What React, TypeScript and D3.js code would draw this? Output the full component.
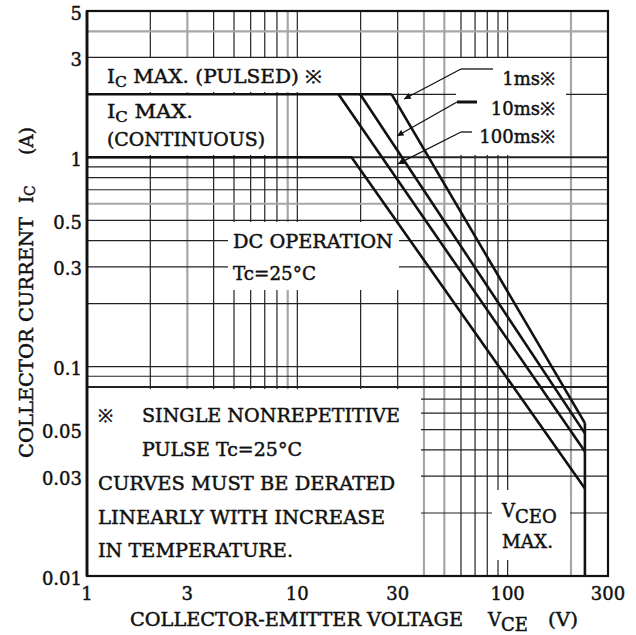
import React from "react";
import * as d3 from "d3";

const W = 636;
const H = 635;

// axis ticks
const xTickValues = [1, 3, 10, 30, 100, 300];
const yTickValues = [0.01, 0.03, 0.05, 0.1, 0.3, 0.5, 1, 3, 5];

// grid lines
const xGridValues = [2, 3, 4, 5, 6, 7, 8, 9, 10, 20, 30, 40, 50, 60, 70, 80, 90, 100, 200];
const yGridValues = [0.02, 0.03, 0.04, 0.05, 0.06, 0.07, 0.08, 0.09, 0.1, 0.2, 0.3, 0.4, 0.5, 0.6, 0.7, 0.8, 0.9, 1, 2, 3, 4];
const xGridGray = [3, 9, 40, 50, 200];
const yGridGray = [0.6, 4];

// SOA curves: [VCE (V), IC (A)]
const icMaxPulsed: [number, number][] = [[1, 2], [28.1, 2]];
const curve1ms: [number, number][] = [[28.1, 2], [233, 0.0537]];
const curve10ms: [number, number][] = [[19.9, 2], [233, 0.048]];
const curve100ms: [number, number][] = [[15.7, 2], [233, 0.0393]];
const curveDC: [number, number][] = [[1, 1], [18.1, 1], [233, 0.0262]];
const vceoMax: [number, number][] = [[233, 0.0537], [233, 0.01]];

// arrow tips (data coords) for pulse-width labels
const pulseLabels = ["1ms※", "10ms※", "100ms※"];
const pulseArrowTips: [number, number][] = [[32.2, 1.9], [29.8, 1.265], [30.1, 0.93]];

const FONT = "DejaVu Serif";

export default function App() {
  const L = 87, R = 608, T = 11, B = 576;
  const x = d3.scaleLog().domain([1, 300]).range([L, R]);
  const y = d3.scaleLog().domain([0.01, 5]).range([B, T]);
  const line = d3.line<[number, number]>().x((d) => x(d[0])).y((d) => y(d[1]));

  // white label backgrounds that interrupt the grid
  const masks = [
    { x: 88, y: 58, w: 257, h: 34 },     // IC MAX (PULSED)
    { x: 88, y: 95, w: 184, h: 60 },     // IC MAX (CONTINUOUS)
    { x: 456, y: 58, w: 110, h: 97 },    // pulse width labels
    { x: 228, y: 222, w: 171, h: 68 },   // DC OPERATION
    { x: 88, y: 389, w: 333, h: 186 },   // notes
    { x: 492, y: 490, w: 78, h: 70 },    // VCEO MAX
  ];

  const leaders = [
    { elbow: [[493, 69], [461, 69]], text: { x: 555, y: 85 }, thick: false },
    { elbow: [[477, 102], [457, 102]], text: { x: 555, y: 115 }, thick: true },
    { elbow: [[472, 132], [461, 132]], text: { x: 555, y: 143 }, thick: false },
  ];

  const ts = {
    fontFamily: FONT,
    fontSize: 18,
    fill: "#111",
    stroke: "#111",
    strokeWidth: 0.45,
  } as React.CSSProperties;

  return (
    <div style={{ position: "absolute", left: 0, top: 0 }}>
      <svg width={W} height={H} viewBox={`0 0 ${W} ${H}`} style={{ display: "block", background: "#fff" }}>
        <defs>
          <marker id="ah" viewBox="0 0 10 10" refX="10" refY="5" markerWidth="7" markerHeight="5" orient="auto">
            <path d="M0,0L10,5L0,10z" fill="#111" />
          </marker>
        </defs>
        <rect x={0} y={0} width={W} height={H} fill="#fff" />

        {/* grid */}
        {xGridValues.map((v) => {
          const gray = xGridGray.includes(v);
          return (
            <line key={"gx" + v} x1={x(v)} x2={x(v)} y1={T} y2={B}
              stroke={gray ? "#a6a6a6" : "#222"} strokeWidth={gray ? 2.2 : 1.2} />
          );
        })}
        {yGridValues.map((v) => {
          const gray = yGridGray.includes(v);
          const major = v === 1 || v === 0.08;
          return (
            <line key={"gy" + v} x1={L} x2={R} y1={y(v)} y2={y(v)}
              stroke={gray ? "#a6a6a6" : "#222"} strokeWidth={gray ? 2.2 : major ? 2 : 1.2} />
          );
        })}

        {/* label backgrounds */}
        {masks.map((m, i) => (
          <rect key={"m" + i} x={m.x} y={m.y} width={m.w} height={m.h} fill="#fff" />
        ))}

        {/* frame */}
        <rect x={L} y={T} width={R - L} height={B - T} fill="none" stroke="#111" strokeWidth={2.2} />
        <line x1={L} x2={L} y1={T} y2={B} stroke="#111" strokeWidth={2.8} />

        {/* curves */}
        {[icMaxPulsed, curve1ms, curve10ms, curve100ms, curveDC, vceoMax].map((c, i) => (
          <path key={"c" + i} d={line(c) || ""} fill="none" stroke="#111" strokeWidth={2.6} strokeLinejoin="round" />
        ))}

        {/* pulse labels and leaders */}
        {leaders.map((ld, i) => {
          const tip = pulseArrowTips[i];
          const [p0, p1] = ld.elbow;
          return (
            <g key={"ld" + i}>
              <line x1={p0[0]} y1={p0[1]} x2={p1[0]} y2={p1[1]} stroke="#111" strokeWidth={ld.thick ? 3 : 1.3} />
              <line x1={p1[0]} y1={p1[1]} x2={x(tip[0])} y2={y(tip[1])} stroke="#111" strokeWidth={1.3} markerEnd="url(#ah)" />
              <text x={ld.text.x} y={ld.text.y} textAnchor="end" style={ts}>{pulseLabels[i]}</text>
            </g>
          );
        })}

        {/* in-plot labels */}
        <text x={107} y={83} style={ts} textLength={215} lengthAdjust="spacingAndGlyphs">
          I<tspan fontSize={14} dy={4}>C</tspan><tspan dy={-4}> MAX. (PULSED) ※</tspan>
        </text>
        <text x={107} y={118} style={ts} textLength={86} lengthAdjust="spacingAndGlyphs">
          I<tspan fontSize={14} dy={4}>C</tspan><tspan dy={-4}> MAX.</tspan>
        </text>
        <text x={107} y={146} style={ts} textLength={158} lengthAdjust="spacingAndGlyphs">(CONTINUOUS)</text>

        <text x={233} y={248} style={ts} textLength={160} lengthAdjust="spacingAndGlyphs">DC OPERATION</text>
        <text x={233} y={280} style={ts} textLength={83} lengthAdjust="spacingAndGlyphs">Tc=25°C</text>

        <text x={98} y={422} style={ts}>※</text>
        <text x={142} y={422} style={ts} textLength={258} lengthAdjust="spacingAndGlyphs">SINGLE NONREPETITIVE</text>
        <text x={142} y={456} style={ts} textLength={160} lengthAdjust="spacingAndGlyphs">PULSE Tc=25°C</text>
        <text x={98} y={490} style={ts} textLength={297} lengthAdjust="spacingAndGlyphs">CURVES MUST BE DERATED</text>
        <text x={98} y={524} style={ts} textLength={287} lengthAdjust="spacingAndGlyphs">LINEARLY WITH INCREASE</text>
        <text x={98} y={557} style={ts} textLength={195} lengthAdjust="spacingAndGlyphs">IN TEMPERATURE.</text>

        <text x={502} y={517} style={ts}>
          V<tspan dy={6}>CEO</tspan>
        </text>
        <text x={502} y={548} style={ts} textLength={51} lengthAdjust="spacingAndGlyphs">MAX.</text>

        {/* y tick labels */}
        {yTickValues.map((v) => (
          <text key={"yt" + v} x={82} y={y(v) + 8.5} textAnchor="end" style={ts}>{String(v)}</text>
        ))}
        {/* x tick labels */}
        {xTickValues.map((v) => (
          <text key={"xt" + v} x={x(v)} y={600} textAnchor="middle" style={ts}>{String(v)}</text>
        ))}

        {/* axis titles */}
        <text x={130} y={626} style={ts} textLength={333} lengthAdjust="spacingAndGlyphs">COLLECTOR-EMITTER VOLTAGE</text>
        <text x={488} y={626} style={ts}>V<tspan dy={5}>CE</tspan></text>
        <text x={548} y={626} style={ts} textLength={30} lengthAdjust="spacingAndGlyphs">(V)</text>

        <g transform="translate(33,458) rotate(-90)">
          <text x={0} y={0} style={ts} textLength={241} lengthAdjust="spacingAndGlyphs">COLLECTOR CURRENT</text>
          <text x={255} y={0} style={ts}>I<tspan fontSize={14} dy={2}>C</tspan></text>
          <text x={303} y={0} style={ts} textLength={28} lengthAdjust="spacingAndGlyphs">(A)</text>
        </g>
      </svg>
    </div>
  );
}
